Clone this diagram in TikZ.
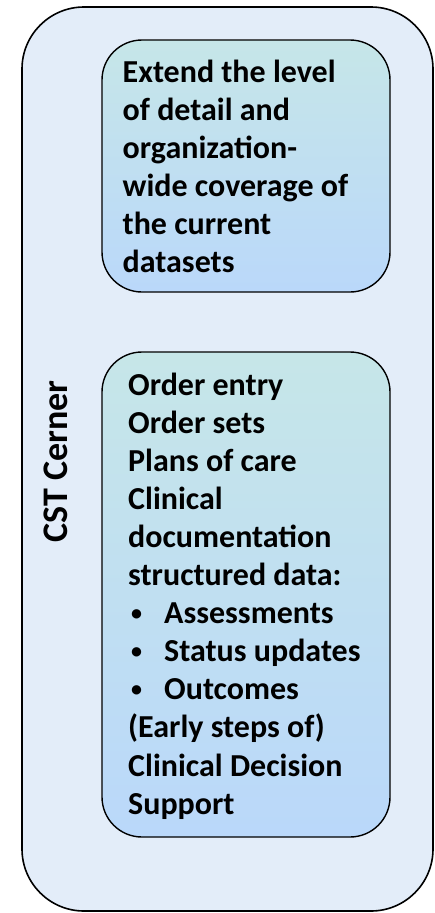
\documentclass[tikz,border=0pt]{standalone}
\usepackage{fontspec}
\setmainfont{Carlito}
\definecolor{outerfill}{HTML}{E3EDF9}
\definecolor{gradtop}{HTML}{C6E6E8}
\definecolor{gradbot}{HTML}{BAD8FA}
\tikzset{
  outerbox/.style={draw=black, line width=1.6pt, fill=outerfill, rounded corners=62pt},
  innerbox/.style={draw=black, line width=1.4pt, top color=gradtop, bottom color=gradbot, rounded corners=40pt},
  boxtext/.style={font=\fontsize{32}{38.1}\selectfont\bfseries, align=left, inner sep=0pt, anchor=base west},
  bullettext/.style={font=\fontsize{22}{38.1}\selectfont\bfseries, inner sep=0pt, anchor=base west},
}
\begin{document}
\begin{tikzpicture}[x=1pt,y=-1pt]
\useasboundingbox (0,0) rectangle (435,913);
\path[outerbox] (22,7) rectangle (433,911);
\path[innerbox] (102,40) rectangle (390,292);
\path[innerbox] (102,352) rectangle (390,837);
\coordinate (b1) at (122.5,82);
\coordinate (b2) at (128,395);
\node[boxtext] (t1) at (b1) {Extend the level};
\foreach \i/\t in {1/of detail and, 2/organization-, 3/wide coverage of, 4/the current, 5/datasets}
  \node[boxtext] (l1\i) at ([yshift=-38.1*\i pt]b1) {\t};
\foreach \i/\t in {0/Order entry, 1/Order sets, 2/Plans of care, 3/Clinical, 4/documentation, 5/structured data:, 9/(Early steps of), 10/Clinical Decision, 11/Support}
  \node[boxtext] (l2\i) at ([yshift=-38.1*\i pt]b2) {\t};
\foreach \i/\t in {6/Assessments, 7/Status updates, 8/Outcomes}{
  \node[bullettext] (bu\i) at ([xshift=3pt,yshift=-38.1*\i pt + 3pt]b2) {•};
  \node[boxtext] (it\i) at ([xshift=36pt,yshift=-38.1*\i pt]b2) {\t};
}
\node[font=\fontsize{36}{40}\selectfont\bfseries, rotate=90, inner sep=0pt, anchor=base] (cst) at (67,461.5) {CST Cerner};
\end{tikzpicture}
\end{document}
